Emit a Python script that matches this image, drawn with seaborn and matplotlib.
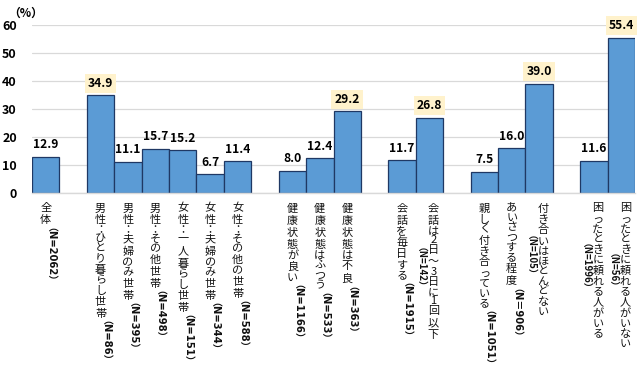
import numpy as np
import pandas as pd
import matplotlib
matplotlib.use("Agg")
import matplotlib.pyplot as plt
import matplotlib.transforms as mtrans
import seaborn as sns

# ---- data ----
labels = ["全体",
          "男性：ひとり暮らし世帯", "男性：夫婦のみ世帯", "男性：その他世帯",
          "女性：一人暮らし世帯", "女性：夫婦のみ世帯", "女性：その他の世帯",
          "健康状態が良い", "健康状態はふつう", "健康状態は不良",
          "会話を毎日する", "会話は2日～3日に1回以下",
          "親しく付き合っている", "あいさつする程度", "付き合いはほとんどない",
          "困ったときに頼れる人がいる", "困ったときに頼れる人がいない"]
n_labels = ["（N=2062）",
            "（N=86）", "（N=395）", "（N=498）",
            "（N=151）", "（N=344）", "（N=588）",
            "（N=1166）", "（N=533）", "（N=363）",
            "（N=1915）", "（N=142）",
            "（N=1051）", "（N＝906）", "（N=105）",
            "（N=1996）", "（N=56）"]
values = [12.9,
          34.9, 11.1, 15.7, 15.2, 6.7, 11.4,
          8.0, 12.4, 29.2,
          11.7, 26.8,
          7.5, 16.0, 39.0,
          11.6, 55.4]
groups = ["全体",
          "世帯", "世帯", "世帯", "世帯", "世帯", "世帯",
          "健康", "健康", "健康",
          "会話", "会話",
          "近所", "近所", "近所",
          "頼れる人", "頼れる人"]
highlight = [False,
             True, False, False, False, False, False,
             False, False, True,
             False, True,
             False, False, True,
             False, True]
wrapped = [False,
           False, False, False, False, False, False,
           False, False, False,
           False, True,
           False, False, True,
           True, True]
yticks = [0, 10, 20, 30, 40, 50, 60]

# ---- build slots with empty gaps between groups ----
slot_names, slot_vals = [], []
prev, gi = None, 0
for lab, v, g in zip(labels, values, groups):
    if prev is not None and g != prev:
        slot_names.append(f"_gap{gi}")
        slot_vals.append(np.nan)
        gi += 1
    slot_names.append(lab)
    slot_vals.append(v)
    prev = g
df = pd.DataFrame({"cat": slot_names, "val": slot_vals})

sns.set_theme(style="white")
plt.rcParams['font.family'] = ['Noto Sans CJK JP', 'DejaVu Sans']

W, H = 640, 374
fig = plt.figure(figsize=(W / 100, H / 100), dpi=100)
ax = fig.add_axes([32 / W, 1 - 193 / H, (635 - 32) / W, (193 - 25) / H])

sns.barplot(data=df, x="cat", y="val", order=slot_names, color="#5B9BD5",
            edgecolor="#1F3864", linewidth=0.9, width=1.0, errorbar=None,
            saturation=1, ax=ax)

ax.set_xlim(-0.5, len(slot_names) - 0.5)
ax.set_ylim(0, 60)
ax.set_yticks(yticks)
ax.set_yticklabels([str(t) for t in yticks], fontsize=9, fontweight="bold", color="black")
ax.tick_params(axis="y", length=0, pad=11)
ax.tick_params(axis="x", length=0)
ax.set_xticklabels([])
ax.set_xlabel("")
ax.set_ylabel("")
ax.yaxis.grid(True, color="#D9D9D9", lw=0.9)
ax.set_axisbelow(True)
for s in ["left", "right", "top"]:
    ax.spines[s].set_visible(False)
ax.spines["bottom"].set_color("#D9D9D9")
ax.spines["bottom"].set_linewidth(1.0)

# value labels
for lab, v, hl in zip(labels, values, highlight):
    x = slot_names.index(lab)
    kw = {}
    if hl:
        kw["bbox"] = dict(boxstyle="square,pad=0.25", facecolor="#FFF2CC", edgecolor="none")
    ax.annotate(f"{v:.1f}", (x, v), xytext=(0, 4), textcoords="offset points",
                ha="center", va="bottom", fontsize=8.7, fontweight="bold",
                color="black", **kw)


# vertical category labels: upright Japanese characters with proportional advance,
# the (N=...) part set sideways
def advance(ch):
    o = ord(ch)
    if 0x3040 <= o <= 0x30FF:      # kana
        return 10.0
    if ch in "：":
        return 7.0
    if ch.isascii():
        return 7.5
    return 12.0                    # kanji / full-width


base = mtrans.blended_transform_factory(ax.transData, ax.transAxes)
top = 9.5
fs_jp = 8.0


def tr_at(dx, dy):
    return mtrans.offset_copy(base, fig=fig, x=dx, y=-dy, units="dots")


for lab, nl, wr in zip(labels, n_labels, wrapped):
    x = slot_names.index(lab)
    dx = 4 if wr else 0
    y = top
    for ch in lab:
        a = advance(ch)
        ax.text(x, 0, ch, transform=tr_at(dx, y + a / 2), ha="center", va="center",
                fontsize=fs_jp, color="#111111", clip_on=False)
        y += a
    if wr:
        # baseline anchored: ink centre sits ~0.37em right of the baseline
        ax.text(x, 0, nl, transform=tr_at(-16.5, top + (y - top) / 2),
                ha="center", va="baseline", rotation=-90, rotation_mode="anchor",
                fontsize=7.0, fontweight="bold", color="#111111", clip_on=False)
    else:
        ax.text(x, 0, nl, transform=tr_at(-3.5, y + 1),
                ha="left", va="baseline", rotation=-90, rotation_mode="anchor",
                fontsize=7.2, fontweight="bold", color="#111111", clip_on=False,
                family=["DejaVu Sans", "Noto Sans CJK JP"])

fig.text(26 / W, 1 - 13 / H, "（%）", ha="center", va="center", fontsize=8.5,
         fontweight="bold", color="black")

fig.savefig("out.png", dpi=100, facecolor="white")
